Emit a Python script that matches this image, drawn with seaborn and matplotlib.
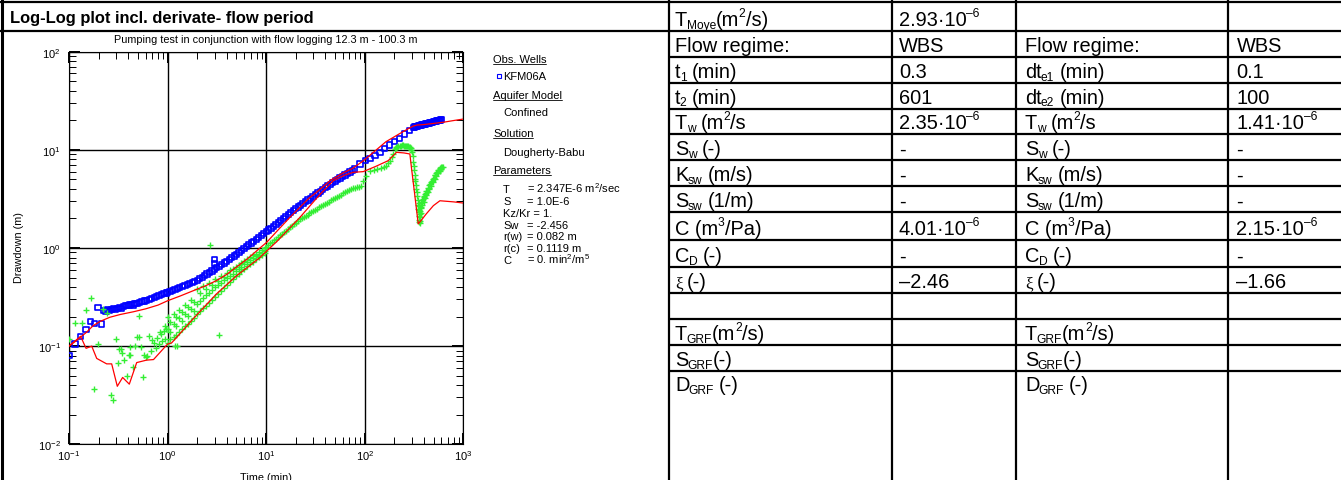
import re
import matplotlib
matplotlib.use("Agg")
import matplotlib.pyplot as plt
from matplotlib.ticker import LogLocator, NullFormatter
import numpy as np
import pandas as pd
import seaborn as sns

# ---------------------------------------------------------------- data
# observed drawdown, KFM06A (time in min, drawdown in m)
obs_time = [
    0.100, 0.115, 0.131, 0.149, 0.164, 0.182, 0.197, 0.213, 0.226, 0.237, 0.247, 0.258, 0.270,
    0.282, 0.296, 0.310, 0.325, 0.340, 0.356, 0.372, 0.390, 0.408, 0.427, 0.447, 0.468, 0.490,
    0.52, 0.55, 0.58, 0.61, 0.65, 0.69, 0.73, 0.77, 0.82, 0.87, 0.92, 0.97,
    1.00, 1.06, 1.12, 1.19, 1.26, 1.33, 1.41, 1.50, 1.58, 1.68, 1.78, 1.88, 2.00, 2.11, 2.24,
    2.37, 2.51, 2.66, 2.82, 2.99, 3.16, 3.35, 3.55, 3.76, 3.98, 4.22, 4.47, 4.73, 5.01, 5.31,
    5.62, 5.96, 6.31, 6.68, 7.08, 7.50, 7.94, 8.41, 8.91, 9.44,
    10.0, 10.6, 11.2, 11.9, 12.6, 13.3, 14.1, 15.0, 15.8, 16.8, 17.8, 18.8, 20.0, 21.1, 22.4,
    23.7, 25.1, 26.6, 28.2, 29.9, 31.6, 33.5, 35.5, 37.6, 39.8, 42.2, 44.7, 47.3, 50.1, 53.1,
    56.2, 59.6, 63.1, 66.8, 70.8, 75.0, 79.4,
    89.7, 101, 113, 127, 143, 160, 180, 202, 227, 255, 287, 310,
    318, 326, 334, 342, 350, 358, 367, 376, 385, 394, 403, 413, 423, 433, 443, 454, 465, 476,
    487, 499, 511, 523, 535, 548, 561, 575, 589, 603,
    2.98, 2.98,
]
obs_drawdown = [
    0.080, 0.105, 0.125, 0.148, 0.178, 0.170, 0.247, 0.168, 0.232, 0.224, 0.238, 0.229, 0.236,
    0.240, 0.237, 0.244, 0.249, 0.240, 0.255, 0.260, 0.258, 0.262, 0.266, 0.263, 0.270, 0.274,
    0.278, 0.283, 0.288, 0.293, 0.300, 0.306, 0.313, 0.319, 0.326, 0.334, 0.341, 0.348,
    0.354, 0.362, 0.371, 0.380, 0.389, 0.398, 0.408, 0.418, 0.427, 0.438, 0.448, 0.459, 0.470,
    0.486, 0.505, 0.524, 0.543, 0.563, 0.584, 0.608, 0.629, 0.653, 0.677, 0.702, 0.728, 0.760,
    0.793, 0.828, 0.865, 0.904, 0.944, 0.987, 1.030, 1.076, 1.124, 1.174, 1.226, 1.280, 1.337,
    1.397,
    1.460, 1.527, 1.594, 1.671, 1.749, 1.824, 1.908, 2.003, 2.087, 2.187, 2.289, 2.389, 2.507,
    2.614, 2.734, 2.846, 2.965, 3.089, 3.220, 3.357, 3.491, 3.640, 3.792, 3.950, 4.112, 4.287,
    4.466, 4.662, 4.820, 4.990, 5.160, 5.360, 5.550, 5.740, 5.950, 6.160, 6.380,
    7.17, 7.75, 8.20, 8.70, 9.40, 10.4, 11.2, 12.1, 13.1, 14.5, 15.7, 17.0,
    17.11, 17.23, 17.34, 17.45, 17.55, 17.66, 17.78, 17.89, 18.00, 18.11, 18.22, 18.34, 18.46,
    18.57, 18.68, 18.81, 18.92, 19.04, 19.16, 19.28, 19.40, 19.52, 19.64, 19.77, 19.89, 20.02,
    20.15, 20.28,
    0.77, 0.70,
]

# fitted type curve (Dougherty-Babu) for drawdown
fit_time = [
    0.10, 0.115, 0.13, 0.15, 0.176, 0.21, 0.26, 0.33, 0.45, 0.60, 0.80, 1.00, 1.35, 1.82, 2.40,
    3.13, 4.00, 5.00, 6.50, 8.65, 10.1, 13.0, 17.0, 22.0, 27.0, 32.5, 45.0, 60.0, 76.0, 97.0,
    125, 164, 228, 270, 312, 340, 400, 500, 626, 800, 1000,
]
fit_drawdown = [
    0.100, 0.111, 0.123, 0.138, 0.162, 0.180, 0.197, 0.210, 0.224, 0.240, 0.262, 0.290, 0.325,
    0.367, 0.410, 0.465, 0.540, 0.640, 0.780, 1.000, 1.140, 1.50, 2.00, 2.60, 3.20, 3.70, 4.90,
    5.80, 6.50, 7.75, 9.60, 12.1, 14.7, 16.2, 17.5, 17.9, 18.1, 18.6, 19.1, 19.9, 20.6,
]

# fitted type curve for the derivative
fit_deriv_time = [
    0.100, 0.131, 0.149, 0.170, 0.191, 0.241, 0.271, 0.309, 0.350, 0.409, 0.486, 0.610, 0.720,
    1.00, 1.10, 1.82, 3.13, 5.00, 8.65, 10.0, 13.0, 22.0, 35.0, 48.0, 62.0, 76.0, 96.6, 130,
    173, 210, 250, 287, 300, 320, 349, 380, 420, 497, 579, 800, 1000,
]
fit_deriv = [
    0.100, 0.126, 0.095, 0.100, 0.075, 0.066, 0.066, 0.039, 0.048, 0.041, 0.068, 0.072, 0.073,
    0.105, 0.108, 0.190, 0.340, 0.520, 0.800, 0.920, 1.180, 2.050, 3.500, 4.850, 5.500, 5.900,
    6.000, 6.800, 7.760, 9.440, 9.300, 9.080, 6.200, 3.650, 1.760, 1.950, 2.220, 2.700, 3.030,
    2.950, 2.870,
]

# observed derivative ds/d(ln t)
deriv_time_early = [
    0.100, 0.114, 0.134, 0.149, 0.166, 0.180, 0.198, 0.220, 0.245, 0.265, 0.281, 0.300, 0.312,
    0.322, 0.337, 0.345, 0.360, 0.385, 0.410, 0.416, 0.420, 0.443, 0.470, 0.490, 0.513, 0.515,
    0.540, 0.560, 0.580, 0.600, 0.620, 0.650, 0.680, 0.700, 0.730, 0.760, 0.790, 0.820, 0.840,
    0.850, 0.880, 0.910, 0.940, 0.950, 0.970, 1.18, 1.26, 2.69, 3.34,
]
deriv_early = [
    0.118, 0.171, 0.171, 0.235, 0.307, 0.037, 0.105, 0.240, 0.220, 0.032, 0.028, 0.118, 0.067,
    0.093, 0.093, 0.085, 0.072, 0.050, 0.082, 0.081, 0.098, 0.062, 0.100, 0.123, 0.201, 0.123,
    0.098, 0.049, 0.082, 0.078, 0.079, 0.128, 0.090, 0.115, 0.108, 0.095, 0.120, 0.105, 0.140,
    0.132, 0.112, 0.142, 0.118, 0.160, 0.150, 0.100, 0.100, 1.070, 0.130,
]
band_time = [
    1.00, 1.07, 1.15, 1.23, 1.32, 1.41, 1.51, 1.62, 1.74, 1.86, 2.00, 2.14, 2.29, 2.45, 2.63,
    2.82, 3.02, 3.24, 3.47, 3.72, 3.98, 4.27, 4.57, 4.90, 5.25, 5.62, 6.03, 6.46, 6.92, 7.41,
    7.94, 8.51, 9.12, 9.77,
]
band_low = [
    0.108, 0.118, 0.124, 0.130, 0.140, 0.150, 0.160, 0.170, 0.182, 0.195, 0.212, 0.226, 0.242,
    0.258, 0.276, 0.296, 0.318, 0.340, 0.365, 0.392, 0.420, 0.450, 0.480, 0.515, 0.548, 0.582,
    0.615, 0.652, 0.690, 0.728, 0.768, 0.808, 0.852, 0.895,
]
band_mid = [
    0.150, 0.138, 0.170, 0.160, 0.192, 0.182, 0.215, 0.205, 0.240, 0.230, 0.268, 0.290, 0.310,
    0.330, 0.352, 0.372, 0.400, 0.420, 0.445, 0.470, 0.495, 0.520, 0.548, 0.580, 0.612, 0.645,
    0.680, 0.712, 0.748, 0.785, 0.820, 0.858, 0.898, 0.940,
]
band_high = [
    0.200, 0.175, 0.215, 0.198, 0.236, 0.222, 0.262, 0.248, 0.295, 0.280, 0.380, 0.345, 0.410,
    0.385, 0.440, 0.420, 0.480, 0.462, 0.520, 0.505, 0.560, 0.590, 0.610, 0.640, 0.668, 0.700,
    0.735, 0.770, 0.805, 0.840, 0.875, 0.912, 0.950, 0.990,
]
deriv_time_mid = [
    10.0, 10.5, 11.0, 11.5, 12.0, 12.6, 13.2, 13.8, 14.5, 15.1, 15.8, 16.6, 17.4, 18.2, 19.1,
    20.0, 20.9, 21.9, 22.9, 24.0, 25.1, 26.3, 27.5, 28.8, 30.2, 31.6, 33.1, 34.7, 36.3, 38.0,
    39.8, 41.7, 43.7, 45.7, 47.9, 50.1, 52.5, 55.0, 57.5, 60.3, 63.1, 66.1, 69.2, 72.4, 75.9,
    79.4, 83.2, 87.1,
]
deriv_mid = [
    1.030, 1.072, 1.114, 1.155, 1.196, 1.245, 1.293, 1.341, 1.397, 1.444, 1.499, 1.560, 1.622,
    1.683, 1.751, 1.818, 1.885, 1.958, 2.017, 2.076, 2.132, 2.192, 2.251, 2.315, 2.381, 2.448,
    2.517, 2.589, 2.659, 2.734, 2.811, 2.890, 2.974, 3.054, 3.142, 3.227, 3.319, 3.414, 3.507,
    3.607, 3.708, 3.812, 3.917, 3.990, 4.050, 4.100, 4.140, 4.170,
]
deriv_time_late = [
    92, 96.6, 104, 113, 123, 133, 145, 156, 166, 174, 180, 187, 195, 202, 206, 210, 215, 220,
    226, 232, 238, 244, 250, 256, 262, 268, 274, 280, 286, 292,
    297, 303, 308, 312, 315, 318, 321, 324, 327, 330, 333, 337, 340, 344, 347, 350, 352, 353,
    355, 356, 357, 358, 359, 360, 361, 362, 363,
    365, 372, 380, 390, 402, 415, 430, 446, 463, 482, 502, 522, 543, 565, 588, 612, 625,
    368, 376, 385, 396, 408, 422, 438, 454, 472, 492, 512, 532, 554, 576, 600,
    368, 376, 385, 396, 408, 422, 438, 454, 472, 492, 512, 532, 554, 576, 600,
]
deriv_late = [
    4.30, 4.85, 5.40, 6.10, 6.20, 6.35, 6.50, 6.70, 6.90, 7.30, 7.75, 8.40, 9.10, 10.2, 10.5,
    10.6, 10.8, 10.9, 11.0, 11.05, 11.1, 11.1, 11.05, 11.0, 10.95, 10.9, 10.85, 10.7, 10.6, 10.4,
    10.0, 9.40, 8.70, 7.60, 6.90, 6.20, 5.50, 5.10, 4.80, 4.40, 4.00, 3.70, 3.40, 3.10, 2.75,
    2.50, 2.90, 2.30, 2.65, 2.10, 1.95, 2.45, 1.85, 2.20, 1.78, 2.05, 1.90,
    2.40, 2.75, 2.95, 3.15, 3.35, 3.60, 3.85, 4.10, 4.45, 4.80, 5.20, 5.60, 5.95, 6.30, 6.55,
    6.70, 6.75,
    2.60, 2.90, 3.10, 3.30, 3.55, 3.80, 4.10, 4.40, 4.75, 5.10, 5.50, 5.85, 6.20, 6.50, 6.75,
    2.25, 2.55, 2.75, 2.95, 3.20, 3.45, 3.70, 3.95, 4.30, 4.65, 5.05, 5.40, 5.75, 6.05, 6.35,
]

# result table (_{..} subscript, ^{..} superscript)
table_col1 = ["T_{Moye}(m^{2}/s)", "Flow regime:", "t_{1} (min)", "t_{2} (min)",
              "T_{w} (m^{2}/s", "S_{w} (-)", "K_{sw} (m/s)", "S_{sw} (1/m)",
              "C (m^{3}/Pa)", "C_{D} (-)", "ξ (-)", "", "T_{GRF}(m^{2}/s)",
              "S_{GRF}(-)", "D_{GRF} (-)"]
table_col2 = ["2.93·10^{\u20136}", "WBS", "0.3", "601", "2.35·10^{\u20136}", "-", "-", "-",
              "4.01·10^{\u20136}", "-", "\u20132.46", "", "", "", ""]
table_col3 = ["", "Flow regime:", "dt_{e1} (min)", "dt_{e2} (min)",
              "T_{w} (m^{2}/s", "S_{w} (-)", "K_{sw} (m/s)", "S_{sw} (1/m)",
              "C (m^{3}/Pa)", "C_{D} (-)", "ξ (-)", "", "T_{GRF}(m^{2}/s)",
              "S_{GRF}(-)", "D_{GRF} (-)"]
table_col4 = ["", "WBS", "0.1", "100", "1.41·10^{\u20136}", "-", "-", "-",
              "2.15·10^{\u20136}", "-", "\u20131.66", "", "", "", ""]

# fit panel text
param_names = ["T", "S", "Kz/Kr = 1.", "Sw", "r(w)", "r(c)", "C"]
param_values = [r"= 2.347E-6 m$^2$/sec", "= 1.0E-6", "", "= -2.456", "= 0.082 m",
                "= 0.1119 m", r"= 0. min$^2$/m$^5$"]

# ---------------------------------------------------------------- style
sns.set_theme(style="ticks")
plt.rcParams.update({
    "font.family": ["Liberation Sans", "DejaVu Sans"],
    "mathtext.fontset": "custom",
    "mathtext.rm": "Liberation Sans",
    "mathtext.it": "Liberation Sans:italic",
    "mathtext.bf": "Liberation Sans:bold",
    "mathtext.default": "regular",
    "axes.unicode_minus": False,
    "text.color": "black",
    "axes.labelcolor": "black",
    "xtick.color": "black",
    "ytick.color": "black",
})

W, H = 1341, 481
fig = plt.figure(figsize=(W / 100, H / 100), dpi=100)
fig.patch.set_facecolor("white")
renderer = fig.canvas.get_renderer()

# page layer in pixel units (frames, table, annotations)
bg = fig.add_axes([0, 0, 1, 1])
bg.set_xlim(0, W)
bg.set_ylim(H, 0)
bg.axis("off")
inv = bg.transData.inverted()

TOKEN = re.compile(r"([_^])\{([^}]*)\}|(ξ)")


def rich_text(x, yb, markup, fs):
    """Left-aligned text with small sub/superscripts, laid out piece by piece."""
    parts, pos = [], 0
    for m in TOKEN.finditer(markup):
        if m.start() > pos:
            parts.append((markup[pos:m.start()], "n"))
        if m.group(3):
            parts.append((m.group(3), "g"))
        else:
            parts.append((m.group(2), "sub" if m.group(1) == "_" else "sup"))
        pos = m.end()
    if pos < len(markup):
        parts.append((markup[pos:], "n"))
    cx = x
    for txt, kind in parts:
        size = fs * 0.6 if kind in ("sub", "sup") else fs
        dy = {"n": 0.0, "g": 0.0, "sub": 2.5, "sup": -9.0}[kind]
        family = ["Liberation Serif"] if kind == "g" else ["Liberation Sans"]
        if kind == "g":
            size = fs * 0.85
        space = 0.24 * size * 100 / 72
        core = txt.strip(" ")
        lead = len(txt) - len(txt.lstrip(" "))
        trail = len(txt) - len(txt.rstrip(" "))
        cx += lead * space
        if core:
            t = bg.text(cx, yb + dy, core, fontsize=size, family=family,
                        va="baseline", ha="left")
            bb = t.get_window_extent(renderer=renderer)
            cx += bb.width + (0.3 if kind in ("sub", "sup") else -0.7)
        cx += trail * space


frame_kw = dict(color="black", lw=1.6, solid_capstyle="butt")
row_lines = [2.5, 31.5, 58, 84, 109.5, 135, 161, 187, 213, 241, 268, 294, 320, 346, 372]
col_lines = [669, 892, 1016.5, 1228.5]
col_text_x = [675, 899, 1025, 1236.5]

bg.plot([1.7, 1.7], [0, H], color="black", lw=2.2, solid_capstyle="butt")
for y in row_lines[:2]:
    bg.plot([0, W], [y, y], **frame_kw)
for y in row_lines[2:]:
    bg.plot([col_lines[0], W], [y, y], **frame_kw)
for x in col_lines:
    bg.plot([x, x], [0, H], **frame_kw)

bg.text(10, 23.5, "Log-Log plot incl. derivate- flow period", fontsize=11.9,
        fontweight="bold", va="baseline", ha="left")

row_bottoms = row_lines[1:] + [397]
for col, x in zip([table_col1, table_col2, table_col3, table_col4], col_text_x):
    for i, txt in enumerate(col):
        if txt:
            rich_text(x, row_bottoms[i] - 5.5, txt, 14.4)

# ---------------------------------------------------------------- log-log plot
ax = fig.add_axes([69 / W, 1 - 445.3 / H, (463.3 - 69) / W, (445.3 - 52.7) / H])
ax.set_xscale("log")
ax.set_yscale("log")

obs_df = pd.DataFrame({"t": obs_time, "s": obs_drawdown})
deriv_df = pd.DataFrame({
    "t": deriv_time_early + band_time * 3 + deriv_time_mid + deriv_time_late,
    "s": deriv_early + band_low + band_mid + band_high + deriv_mid + deriv_late,
})
fit_df = pd.DataFrame({"t": fit_time, "s": fit_drawdown})
fit_deriv_df = pd.DataFrame({"t": fit_deriv_time, "s": fit_deriv})

sns.scatterplot(data=obs_df, x="t", y="s", marker="s", s=14, color="#0000ff",
                ax=ax, legend=False, zorder=3)
sq = ax.collections[-1]
sq.set_facecolor("none")
sq.set_edgecolor("#0000ff")
sq.set_linewidth(1.2)

sns.scatterplot(data=deriv_df, x="t", y="s", marker="+", s=18, color="#33ee33",
                ax=ax, legend=False, zorder=4)
cr = ax.collections[-1]
cr.set_edgecolor("#33ee33")
cr.set_linewidth(1.0)

sns.lineplot(data=fit_df, x="t", y="s", sort=False, estimator=None, color="#ff0000",
             lw=0.9, ax=ax, zorder=5)
sns.lineplot(data=fit_deriv_df, x="t", y="s", sort=False, estimator=None, color="#ff0000",
             lw=0.9, ax=ax, zorder=5)

ax.set_xlim(0.1, 1000)
ax.set_ylim(0.01, 100)
ax.set(xlabel="", ylabel="")
for axis in (ax.xaxis, ax.yaxis):
    axis.set_major_locator(LogLocator(base=10, numticks=12))
    axis.set_minor_locator(LogLocator(base=10, subs=np.arange(2, 10), numticks=40))
    axis.set_minor_formatter(NullFormatter())
ax.tick_params(which="major", direction="in", length=8, width=1.4, top=True, right=True,
               labelsize=8, pad=3)
ax.tick_params(which="minor", direction="in", length=5, width=0.7, top=True, right=True)
ax.tick_params(axis="y", which="major", pad=6)
ax.grid(which="major", color="black", lw=1.0)
ax.grid(which="minor", visible=False)
for sp in ax.spines.values():
    sp.set_color("black")
    sp.set_linewidth(0.8)

bg.text(266, 43.3, "Pumping test in conjunction with flow logging 12.3 m - 100.3 m",
        fontsize=7.8, ha="center", va="baseline")
bg.text(266, 481.5, "Time (min)", fontsize=7.8, ha="center", va="baseline")
bg.text(19.5, 247.5, "Drawdown (m)", fontsize=7.8, rotation=90, ha="center", va="center")

# ---------------------------------------------------------------- fit summary
info_fs = 8.0


def header(label, yb):
    t = bg.text(493, yb, label, fontsize=info_fs, va="baseline", ha="left")
    bb = t.get_window_extent(renderer=renderer)
    x0 = inv.transform((bb.x0, bb.y0))[0]
    x1 = inv.transform((bb.x1, bb.y0))[0]
    bg.plot([x0, x1], [yb + 1.8, yb + 1.8], color="black", lw=0.6)


header("Obs. Wells", 62.7)
bg.plot([499.3], [76.6], marker="s", ms=2.8, mfc="none", mec="#0000ff", mew=0.8)
bg.text(503, 80, "KFM06A", fontsize=info_fs, va="baseline", ha="left")
header("Aquifer Model", 99)
bg.text(503, 116, "Confined", fontsize=info_fs, va="baseline", ha="left")
header("Solution", 137.3)
bg.text(503, 155.7, "Dougherty-Babu", fontsize=info_fs, va="baseline", ha="left")
header("Parameters", 174.3)
for i, (name, val) in enumerate(zip(param_names, param_values)):
    yb = 193.3 + i * 11.75
    bg.text(503, yb, name, fontsize=info_fs, va="baseline", ha="left")
    if val:
        bg.text(527, yb, val, fontsize=info_fs, va="baseline", ha="left")

fig.savefig("out.png", dpi=100, facecolor="white")
